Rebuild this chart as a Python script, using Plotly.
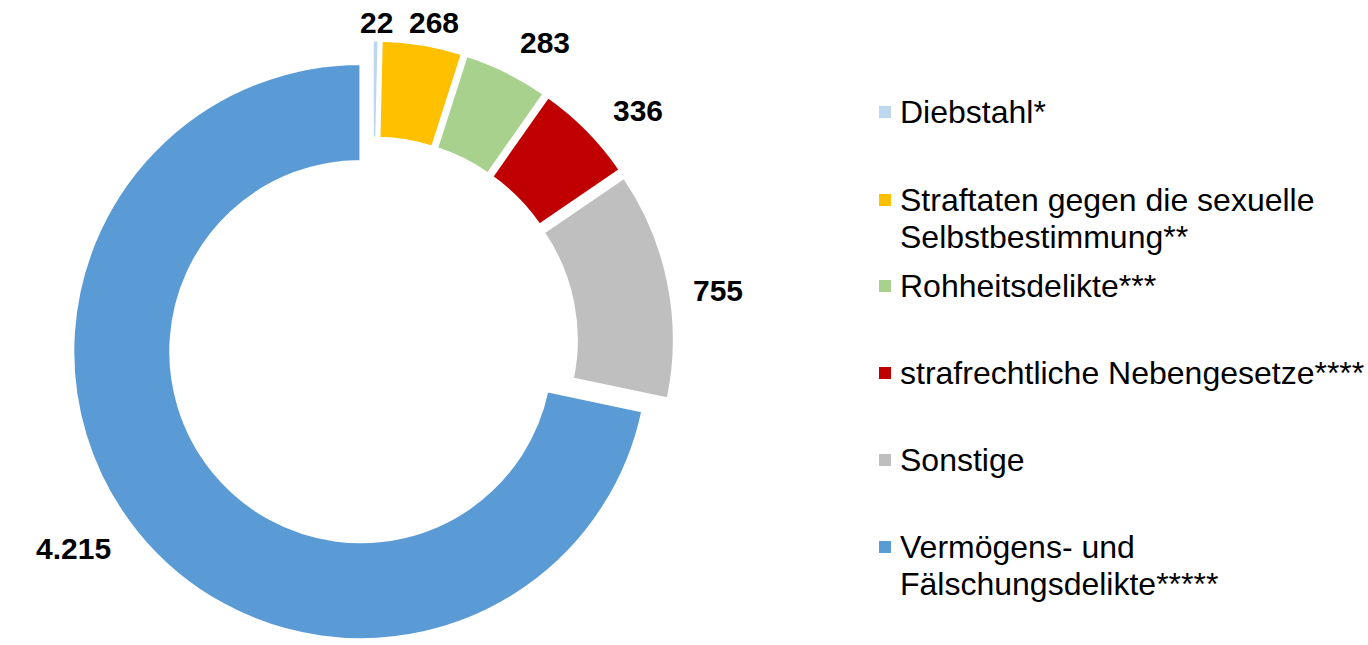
import math
import plotly.graph_objects as go

categories = [
    "Diebstahl*",
    "Straftaten gegen die sexuelle Selbstbestimmung**",
    "Rohheitsdelikte***",
    "strafrechtliche Nebengesetze****",
    "Sonstige",
    "Vermögens- und Fälschungsdelikte*****",
]
values = [22, 268, 283, 336, 755, 4215]
colors = ["#BDD7EE", "#FFC000", "#A9D18E", "#C00000", "#BFBFBF", "#5B9BD5"]
legend_lines = [
    ["Diebstahl*"],
    ["Straftaten gegen die sexuelle", "Selbstbestimmung**"],
    ["Rohheitsdelikte***"],
    ["strafrechtliche Nebengesetze****"],
    ["Sonstige"],
    ["Vermögens- und", "Fälschungsdelikte*****"],
]

W, H = 1368, 645
ML, MR, MT, MB = 0, 0, 40, 0
PW, PH = W - ML - MR, H - MT - MB
FONT = "Liberation Sans, Arial, sans-serif"
PULL = 0.05
DOM_X = [0.05, 0.494]
DOM_Y = [0.0, 1.0]
LABEL_SIZE = 30

fig = go.Figure()
fig.add_trace(go.Pie(
    labels=categories,
    values=values,
    sort=False,
    direction="clockwise",
    rotation=0,
    hole=0.66,
    pull=PULL,
    marker=dict(colors=colors, line=dict(color="white", width=3)),
    textinfo="none",
    domain=dict(x=DOM_X, y=DOM_Y),
    showlegend=False,
    hoverinfo="label+value",
))


def px_to_paper_x(x):
    return (x - ML) / PW


def px_to_paper_y(y):
    return (H - MB - y) / PH


# Pie geometry as Plotly computes it (used to place the value labels)
avail_w = PW * (DOM_X[1] - DOM_X[0])
avail_h = PH * (DOM_Y[1] - DOM_Y[0])
r = min(avail_w, avail_h) / (2 + 2 * PULL)
cx = ML + PW * (DOM_X[0] + DOM_X[1]) / 2
cy = MT + PH * (1 - DOM_Y[0]) - avail_h / 2

total = sum(values)
label_r = r + PULL * r + 22
angle_shift = 2.5
cum = 0
for v in values:
    theta0 = math.radians(360 * (cum + v / 2) / total)
    cum += v
    shift = angle_shift * min(1.0, abs(math.sin(theta0)) / 0.5)
    theta = theta0 + math.radians(shift)
    txt = f"{v:,}".replace(",", ".")
    w = sum(8.3 if ch == "." else 16.7 for ch in txt)
    h = 30
    s, c = math.sin(theta), math.cos(theta)
    sx = max(-1, min(1, s / 0.7))
    sy = max(-1, min(1, c / 0.7))
    if abs(s) < 0.3:
        sx *= abs(s) / 0.3
    lx = cx + label_r * s + sx * w / 2
    ly = cy - label_r * c - sy * h / 2
    ly = max(ly, 22)
    fig.add_annotation(x=px_to_paper_x(lx), y=px_to_paper_y(ly), xref="paper", yref="paper",
                       text=f"<b>{txt}</b>", showarrow=False,
                       xanchor="center", yanchor="middle",
                       font=dict(family=FONT, size=LABEL_SIZE, color="black"))

first_line_y = [112, 200, 286, 373, 460, 547]
line_gap = 37
for i, lines in enumerate(legend_lines):
    y0 = first_line_y[i]
    fig.add_shape(type="rect", xref="paper", yref="paper",
                  x0=px_to_paper_x(879), x1=px_to_paper_x(891),
                  y0=px_to_paper_y(y0 - 6), y1=px_to_paper_y(y0 + 6),
                  fillcolor=colors[i], line=dict(width=0))
    for j, ln in enumerate(lines):
        fig.add_annotation(x=px_to_paper_x(898), y=px_to_paper_y(y0 + j * line_gap),
                           xref="paper", yref="paper",
                           text=ln, showarrow=False, xanchor="left", yanchor="middle",
                           font=dict(family=FONT, size=32, color="black"))

fig.update_layout(
    width=W, height=H,
    margin=dict(l=ML, r=MR, t=MT, b=MB, autoexpand=False),
    paper_bgcolor="white", plot_bgcolor="white",
    separators=",.",
    font=dict(family=FONT, color="black"),
)
fig.write_html(
    "out.html",
    config={"displayModeBar": False},
    post_script="document.body.style.margin='0';document.body.style.overflow='hidden';",
)
